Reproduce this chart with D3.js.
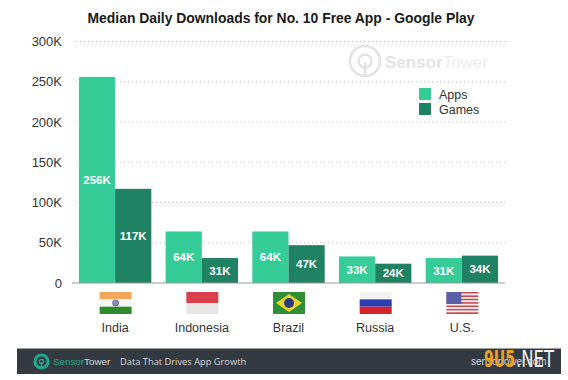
<!DOCTYPE html>
<html>
<head>
<meta charset="utf-8">
<script src="https://cdn.jsdelivr.net/npm/d3@7"></script>
<style>
  html, body { margin: 0; padding: 0; background: #fff; }
  svg { display: block; font-family: Helvetica, "Liberation Sans", Arial, sans-serif; }
</style>
</head>
<body>
<svg id="chart" width="568" height="380"></svg>
<script>
var countries = ["India", "Indonesia", "Brazil", "Russia", "U.S."];
var apps = [256, 64, 64, 33, 31];
var games = [117, 31, 47, 24, 34];
var seriesNames = ["Apps", "Games"];
var ticks = [0, 50, 100, 150, 200, 250, 300];

var APP_COLOR = "#35cc97",
    GAME_COLOR = "#1f8263",
    TEXT_COLOR = "#333",
    WM_COLOR = "#e3e3e3";

var svg = d3.select("#chart");

var x = d3.scaleBand().domain(countries).range([72, 505]).paddingInner(0.165).paddingOuter(0.08),
    inner = d3.scaleBand().domain(seriesNames).range([0, x.bandwidth()]),
    y = d3.scaleLinear().domain([0, 300]).range([283, 41.5]),
    color = d3.scaleOrdinal().domain(seriesNames).range([APP_COLOR, GAME_COLOR]);

// title
svg.append("text")
    .attr("x", 281).attr("y", 23)
    .attr("text-anchor", "middle")
    .style("font-size", "13.9px").style("font-weight", "bold").style("fill", "#1a1a1a")
    .text("Median Daily Downloads for No. 10 Free App - Google Play");

// gridlines + tick labels
var yAxis = d3.axisLeft(y).tickValues(ticks).tickSize(0).tickPadding(0)
    .tickFormat(d => d === 0 ? "0" : d + "K");
var yG = svg.append("g").attr("transform", "translate(62,0)").call(yAxis);
yG.select(".domain").remove();
yG.selectAll("text").style("font-size", "13px").style("fill", TEXT_COLOR)
    .style("font-family", "Helvetica, 'Liberation Sans', Arial, sans-serif");

svg.append("g").selectAll("line").data(ticks.filter(d => d > 0)).enter().append("line")
    .attr("x1", 76).attr("x2", 505)
    .attr("y1", d => y(d)).attr("y2", d => y(d))
    .style("stroke", "#bbb").style("stroke-width", 1).style("stroke-dasharray", "1 3");

// sensor tower watermark
var wm = svg.append("g");
wm.append("circle").attr("cx", 365).attr("cy", 61).attr("r", 15)
    .style("fill", "none").style("stroke", WM_COLOR).style("stroke-width", 2.5);
wm.append("circle").attr("cx", 365).attr("cy", 61).attr("r", 6.5)
    .style("fill", "none").style("stroke", WM_COLOR).style("stroke-width", 2.5);
wm.append("line").attr("x1", 365).attr("x2", 365).attr("y1", 62).attr("y2", 75)
    .style("stroke", WM_COLOR).style("stroke-width", 2.5);
var wmText = wm.append("text").attr("x", 385).attr("y", 68)
    .style("font-size", "17px").style("fill", WM_COLOR);
wmText.append("tspan").style("font-weight", "bold").text("Sensor");
wmText.append("tspan").style("fill", "#ececec").text("Tower");

// bars
var rows = countries.map((c, i) => ({country: c, values: [apps[i], games[i]]}));
var groups = svg.append("g").selectAll("g").data(rows).enter().append("g")
    .attr("transform", d => "translate(" + x(d.country) + ",0)");

groups.selectAll("rect")
    .data(d => d.values.map((v, i) => ({name: seriesNames[i], value: v})))
    .enter().append("rect")
    .attr("x", d => inner(d.name))
    .attr("y", d => y(d.value))
    .attr("width", inner.bandwidth())
    .attr("height", d => y(0) - y(d.value))
    .style("fill", d => color(d.name));

groups.selectAll("text")
    .data(d => d.values.map((v, i) => ({name: seriesNames[i], value: v})))
    .enter().append("text")
    .attr("x", d => inner(d.name) + inner.bandwidth() / 2)
    .attr("y", d => y(d.value / 2) + 4)
    .attr("text-anchor", "middle")
    .style("font-size", "11.5px").style("font-weight", "bold").style("fill", "#fff")
    .text(d => d.value + "K");

// axis baseline
svg.append("line").attr("x1", 72).attr("x2", 505).attr("y1", 283).attr("y2", 283)
    .style("stroke", "#999").style("stroke-width", 1);

// country labels
svg.append("g").selectAll("text").data(countries).enter().append("text")
    .attr("x", d => x(d) + x.bandwidth() / 2)
    .attr("y", 332)
    .attr("text-anchor", "middle")
    .style("font-size", "12.5px").style("fill", TEXT_COLOR)
    .text(d => d);

// flags
var FLAG_W = 32, FLAG_H = 22, FLAG_Y = 292;
var stripes = {
  "India": ["#f2a65a", "#f4f4f0", "#2f8a2c"],
  "Indonesia": ["#d8404c", "#e6e6e6"],
  "Russia": ["#f2f2f2", "#2b3fb5", "#d6232c"]
};

countries.forEach(function(c) {
  var g = svg.append("g")
      .attr("transform", "translate(" + (x(c) + x.bandwidth() / 2 - FLAG_W / 2 + 0.5) + "," + FLAG_Y + ")");
  if(stripes[c]) {
    var n = stripes[c].length;
    stripes[c].forEach(function(col, i) {
      g.append("rect").attr("y", i * FLAG_H / n).attr("width", FLAG_W).attr("height", FLAG_H / n).style("fill", col);
    });
  }
  if(c === "India") {
    g.append("circle").attr("cx", FLAG_W / 2).attr("cy", FLAG_H / 2).attr("r", 3)
        .style("fill", "#8d8fc0").style("stroke", "#3c3c8c").style("stroke-width", 0.6);
  }
  if(c === "Brazil") {
    g.append("rect").attr("width", FLAG_W).attr("height", FLAG_H).style("fill", "#2f8f35");
    g.append("polygon")
        .attr("points", [[FLAG_W / 2, 2], [FLAG_W - 3, FLAG_H / 2], [FLAG_W / 2, FLAG_H - 2], [3, FLAG_H / 2]].join(" "))
        .style("fill", "#e8d331");
    g.append("circle").attr("cx", FLAG_W / 2).attr("cy", FLAG_H / 2).attr("r", 5).style("fill", "#2b3d80");
  }
  if(c === "U.S.") {
    d3.range(13).forEach(function(i) {
      g.append("rect").attr("y", i * FLAG_H / 13).attr("width", FLAG_W).attr("height", FLAG_H / 13)
          .style("fill", i % 2 ? "#eee" : "#c8464f");
    });
    g.append("rect").attr("width", 15).attr("height", 12).style("fill", "#5a5fa8");
  }
});

// footer
svg.append("rect").attr("x", 17).attr("y", 348.5).attr("width", 544).attr("height", 25.5).style("fill", "#343a42");
svg.append("circle").attr("cx", 41.5).attr("cy", 361.5).attr("r", 6.5)
    .style("fill", "none").style("stroke", "#24a88c").style("stroke-width", 3);
svg.append("circle").attr("cx", 41.5).attr("cy", 361.5).attr("r", 2.2)
    .style("fill", "none").style("stroke", "#24a88c").style("stroke-width", 1.2);
svg.append("line").attr("x1", 41.5).attr("x2", 41.5).attr("y1", 362).attr("y2", 369)
    .style("stroke", "#24a88c").style("stroke-width", 1.5);
var logo = svg.append("text").attr("x", 53).attr("y", 365).style("font-size", "9.8px");
logo.append("tspan").style("fill", "#24a88c").text("Sensor");
logo.append("tspan").style("fill", "#d8d8d8").text("Tower");
svg.append("text").attr("x", 120).attr("y", 365).style("font-size", "9.3px").style("fill", "#d8d8d8")
    .style("font-family", "'Open Sans', sans-serif")
    .text("Data That Drives App Growth");
svg.append("text").attr("x", 471).attr("y", 365).style("font-size", "10px").style("fill", "#d8d8d8")
    .text("sensortower.com");

// legend
var legend = svg.append("g").selectAll("g").data(seriesNames).enter().append("g")
    .attr("transform", (d, i) => "translate(419," + (88 + i * 15) + ")");
legend.append("rect").attr("width", 12).attr("height", 12).style("fill", d => color(d));
legend.append("text").attr("x", 20).attr("y", 10.5)
    .style("font-size", "12.5px").style("fill", TEXT_COLOR).text(d => d);

// site watermark over the footer
svg.append("text").attr("x", 484).attr("y", 367)
    .attr("textLength", 31).attr("lengthAdjust", "spacingAndGlyphs")
    .style("font-size", "23px").style("font-weight", "bold").style("fill", "#f0a020")
    .style("font-family", "'DejaVu Sans', sans-serif")
    .text("9U5");
svg.append("text").attr("x", 516).attr("y", 367)
    .attr("textLength", 38).attr("lengthAdjust", "spacingAndGlyphs")
    .style("font-size", "23px").style("fill", "#f2f2f2")
    .style("font-family", "'DejaVu Sans', sans-serif")
    .text(".NET");
</script>
</body>
</html>
